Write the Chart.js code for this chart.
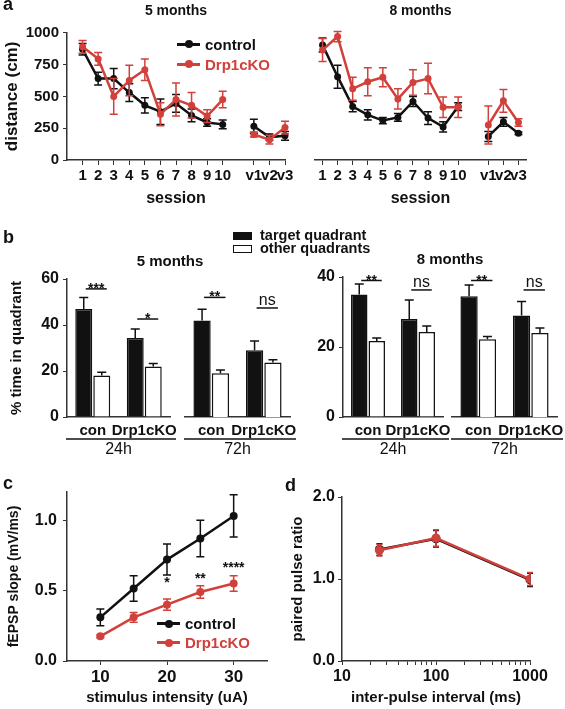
<!DOCTYPE html>
<html>
<head>
<meta charset="utf-8">
<script src="https://cdn.jsdelivr.net/npm/chart.js@4.4.1/dist/chart.umd.min.js"></script>
<style>
body{margin:0;background:#fff;width:565px;height:709px;position:relative;overflow:hidden;font-family:'Liberation Sans',Arial,sans-serif;color:#111}
canvas{position:absolute}
.lbl{position:absolute;font-weight:bold;font-size:18px;line-height:18px}
.t{position:absolute;font-weight:bold;font-size:15px;white-space:nowrap;transform:translate(-50%,-50%)}
.leg{position:absolute;font-weight:bold;font-size:15px}
.leg div{display:flex;align-items:center;white-space:nowrap}
.mk{position:relative;width:23px;height:3px;margin-right:5px}
.mk i{position:absolute;left:7.5px;top:-2.5px;width:8px;height:8px;border-radius:50%;background:inherit}
.sq{width:19px;height:8px;border:1.5px solid #111;margin-right:8px;box-sizing:border-box}
</style>
</head>
<body>
<canvas id="aL" width="295" height="212" style="left:0;top:0"></canvas>
<canvas id="aR" width="270" height="212" style="left:295px;top:0"></canvas>
<canvas id="b1" width="180" height="222" style="left:0;top:238px"></canvas>
<canvas id="b2" width="120" height="222" style="left:177px;top:238px"></canvas>
<canvas id="b3" width="170" height="222" style="left:280px;top:238px"></canvas>
<canvas id="b4" width="117" height="222" style="left:448px;top:238px"></canvas>
<canvas id="c" width="285" height="247" style="left:0;top:462px"></canvas>
<canvas id="d" width="280" height="247" style="left:285px;top:462px"></canvas>

<div class="lbl" style="left:3px;top:-5px">a</div>
<div class="lbl" style="left:3px;top:228px">b</div>
<div class="lbl" style="left:3px;top:474px">c</div>
<div class="lbl" style="left:285px;top:476px">d</div>

<div class="leg" style="left:177px;top:34px">
  <div style="height:20px"><span class="mk" style="background:#111"><i></i></span>control</div>
  <div style="height:20px;color:#d2403b"><span class="mk" style="background:#d2403b"><i></i></span>Drp1cKO</div>
</div>

<div class="leg" style="left:233px;top:229px;font-size:14.5px;line-height:13px">
  <div style="height:13px"><span class="sq" style="background:#111"></span>target quadrant</div>
  <div style="height:13px"><span class="sq" style="background:#fff"></span>other quadrants</div>
</div>
<div class="t" style="left:170px;top:260px">5 months</div>
<div class="t" style="left:450px;top:258px">8 months</div>

<div class="leg" style="left:157px;top:614px">
  <div style="height:19px"><span class="mk" style="background:#111"><i></i></span>control</div>
  <div style="height:19px;color:#d2403b"><span class="mk" style="background:#d2403b"><i></i></span>Drp1cKO</div>
</div>

<script>
// panel a: distance per session
const sessions = ['1', '2', '3', '4', '5', '6', '7', '8', '9', '10', '', 'v1', 'v2', 'v3'];
const ctrl5 = [870, 640, 640, 530, 430, 380, 445, 350, 295, 280, null, 265, 180, 190];
const ctrl5Err = [45, 50, 80, 70, 60, 100, 70, 50, 30, 35, null, 55, 25, 35];
const ko5 = [890, 795, 500, 625, 710, 360, 475, 430, 345, 475, null, 200, 160, 255];
const ko5Err = [50, 50, 140, 120, 85, 90, 130, 100, 50, 65, null, 20, 35, 50];
const ctrl8 = [905, 655, 420, 355, 310, 335, 460, 330, 260, 420, null, 185, 300, 210];
const ctrl8Err = [55, 90, 40, 40, 25, 30, 40, 50, 40, 30, null, 40, 35, 10];
const ko8 = [865, 970, 560, 615, 650, 480, 610, 640, 415, 415, null, 275, 465, 295];
const ko8Err = [90, 40, 90, 110, 75, 80, 100, 120, 80, 80, null, 150, 90, 30];

// panel b: % time in quadrant
const groups = ['con', 'Drp1cKO'];
const tgt5h24 = [47, 34.3], tgt5h24Err = [5, 4];
const oth5h24 = [18, 22], oth5h24Err = [1.5, 1.3];
const sig5h24 = ['***', '*'], sig5h24Level = [55.7, 42.6];
const tgt5h72 = [42, 29], tgt5h72Err = [4.8, 4];
const oth5h72 = [19, 23.7], oth5h72Err = [1.4, 1.2];
const sig5h72 = ['**', 'ns'], sig5h72Level = [52, 47.4];
const tgt8h24 = [35, 28], tgt8h24Err = [3, 5.4];
const oth8h24 = [21.7, 24.3], oth8h24Err = [0.9, 1.7];
const sig8h24 = ['**', 'ns'], sig8h24Level = [39, 36.3];
const tgt8h72 = [34.5, 29], tgt8h72Err = [3.2, 4];
const oth8h72 = [22.2, 24], oth8h72Err = [0.8, 1.4];
const sig8h72 = ['**', 'ns'], sig8h72Level = [39, 36.3];

// panel c: input-output
const intensity = [10, 15, 20, 25, 30];
const intensityTicks = [10, 20, 30];
const ctrlSlope = [0.31, 0.515, 0.72, 0.87, 1.03];
const ctrlSlopeErr = [0.06, 0.09, 0.11, 0.13, 0.15];
const koSlope = [0.175, 0.31, 0.40, 0.49, 0.55];
const koSlopeErr = [0.01, 0.035, 0.04, 0.045, 0.055];
const slopeStars = ['', '', '*', '**', '****'];
const slopeStarLevel = [null, null, 0.58, 0.61, 0.69];

// panel d: paired pulse ratio
const interval = [25, 100, 1000];
const intervalTicks = [10, 20, 30, 40, 50, 60, 70, 80, 90, 100, 200, 300, 400, 500, 600, 700, 800, 900, 1000];
const ctrlPPR = [1.36, 1.49, 0.99];
const ctrlPPRErr = [0.07, 0.1, 0.08];
const koPPR = [1.35, 1.50, 1.0];
const koPPRErr = [0.07, 0.1, 0.08];

const RED = '#d2403b', BLACK = '#111', AXIS = '#333';
Chart.defaults.font.family = "'Liberation Sans', Arial, sans-serif";
Chart.defaults.color = BLACK;
Chart.defaults.animation = false;
Chart.defaults.responsive = false;
Chart.defaults.devicePixelRatio = 1;
Chart.defaults.plugins.legend.display = false;
Chart.defaults.plugins.tooltip.enabled = false;

const bold = size => ({ size, weight: 'bold' });

// error bars, drawn right after their own dataset
const errorBars = {
  id: 'errorBars',
  afterDatasetDraw(chart, args) {
    const ds = chart.data.datasets[args.index];
    if (!ds.errors) return;
    const y = chart.scales.y, ctx = chart.ctx;
    const upOnly = chart.config.type === 'bar';
    const w = ds.capHalf || 4;
    ctx.save();
    ctx.strokeStyle = ds.errorColor || ds.borderColor;
    ctx.lineWidth = 1.5;
    args.meta.data.forEach((el, i) => {
      const raw = ds.data[i], e = ds.errors[i];
      if (raw == null || e == null) return;
      const v = typeof raw === 'object' ? raw.y : raw;
      const top = y.getPixelForValue(v + e);
      const bot = upOnly ? el.y : y.getPixelForValue(v - e);
      ctx.beginPath();
      ctx.moveTo(el.x, top); ctx.lineTo(el.x, bot);
      ctx.moveTo(el.x - w, top); ctx.lineTo(el.x + w, top);
      if (!upOnly) { ctx.moveTo(el.x - w, bot); ctx.lineTo(el.x + w, bot); }
      ctx.stroke();
    });
    ctx.restore();
  }
};

// significance bars + group underline for panel b
const sigMarks = {
  id: 'sigMarks',
  afterDatasetsDraw(chart, args, opts) {
    const { ctx, chartArea, scales: { y } } = chart;
    const tgt = chart.getDatasetMeta(0).data, oth = chart.getDatasetMeta(1).data;
    ctx.save();
    ctx.strokeStyle = BLACK;
    ctx.fillStyle = BLACK;
    ctx.lineWidth = 1.5;
    ctx.textAlign = 'center';
    ctx.textBaseline = 'alphabetic';
    opts.labels.forEach((lab, i) => {
      const yy = y.getPixelForValue(opts.levels[i]);
      const x0 = tgt[i].x + 2, x1 = oth[i].x + 5;
      ctx.beginPath();
      ctx.moveTo(x0, yy); ctx.lineTo(x1, yy);
      ctx.stroke();
      if (lab === 'ns') {
        ctx.font = "16px 'Liberation Sans', Arial, sans-serif";
        ctx.fillText(lab, (x0 + x1) / 2, yy - 3);
      } else {
        ctx.font = "bold 14px 'Liberation Sans', Arial, sans-serif";
        ctx.fillText(lab, (x0 + x1) / 2, yy + 4);
      }
    });
    const uy = chartArea.bottom + 22;
    ctx.beginPath();
    ctx.moveTo(chartArea.left - 1, uy); ctx.lineTo(chartArea.right + 6, uy);
    ctx.stroke();
    ctx.restore();
  }
};

// asterisks above KO points in panel c
const slopeMarks = {
  id: 'slopeMarks',
  afterDatasetsDraw(chart) {
    const { ctx, scales: { x, y } } = chart;
    ctx.save();
    ctx.fillStyle = BLACK;
    ctx.font = "bold 14px 'Liberation Sans', Arial, sans-serif";
    ctx.textAlign = 'center';
    slopeStars.forEach((s, i) => {
      if (!s) return;
      ctx.fillText(s, x.getPixelForValue(intensity[i]), y.getPixelForValue(slopeStarLevel[i]) + 8);
    });
    ctx.restore();
  }
};

function sessionChart(id, labels, ctrl, ctrlErr, ko, koErr, title, showY, pad, offset) {
  return new Chart(document.getElementById(id), {
    type: 'line',
    data: {
      labels,
      datasets: [
        { data: ctrl, errors: ctrlErr, borderColor: BLACK, backgroundColor: BLACK, order: 1 },
        { data: ko, errors: koErr, borderColor: RED, backgroundColor: RED, order: 0 }
      ]
    },
    options: {
      layout: { padding: pad },
      spanGaps: false,
      elements: { line: { borderWidth: 2.5, tension: 0 }, point: { radius: 3.5, borderWidth: 0 } },
      plugins: {
        title: { display: true, text: title, fullSize: false, font: bold(14), color: BLACK, padding: { top: 3, bottom: 13 } }
      },
      scales: {
        x: {
          offset,
          afterFit: s => { s.height = 52; s.paddingLeft = 0; s.paddingRight = 0; },
          border: { color: AXIS, width: 1.5 },
          grid: { drawOnChartArea: false, tickLength: 5, tickColor: c => labels[c.index] ? AXIS : 'rgba(0,0,0,0)' },
          ticks: { font: bold(15), padding: 2, maxRotation: 0, autoSkip: false, color: BLACK },
          title: { display: true, text: 'session', font: bold(16), color: BLACK, padding: { top: 0, bottom: 4 } }
        },
        y: {
          display: showY,
          min: 0, max: 1000,
          afterFit: s => { s.width = showY ? 67 : 0; },
          border: { color: AXIS, width: 1.5 },
          grid: { drawOnChartArea: false, tickLength: 4, tickColor: AXIS },
          ticks: { stepSize: 250, font: bold(15), padding: 4, color: BLACK, callback: v => String(v) },
          title: { display: true, text: 'distance (cm)', font: bold(17), color: BLACK, padding: { top: 2, bottom: 0 } }
        }
      }
    },
    plugins: [errorBars]
  });
}

sessionChart('aL', [''].concat(sessions), [null].concat(ctrl5), [null].concat(ctrl5Err),
  [null].concat(ko5), [null].concat(ko5Err), '5 months', true, { left: 0, right: 10, top: 0, bottom: 0 }, false);
sessionChart('aR', sessions, ctrl8, ctrl8Err, ko8, ko8Err, '8 months', false, { left: 20, right: 39, top: 0, bottom: 0 }, true);

function quadChart(id, tgt, tgtErr, oth, othErr, sig, sigLevel, group, yMax, showY, yWidth, yTitle, pad) {
  return new Chart(document.getElementById(id), {
    type: 'bar',
    data: {
      labels: groups,
      datasets: [
        { data: tgt, errors: tgtErr, errorColor: BLACK, backgroundColor: BLACK, borderColor: BLACK, borderWidth: 1.5, capHalf: 4.5 },
        { data: oth, errors: othErr, errorColor: BLACK, backgroundColor: '#fff', borderColor: BLACK, borderWidth: 1.5, capHalf: 4.5 }
      ]
    },
    options: {
      layout: { padding: pad },
      datasets: { bar: { categoryPercentage: 0.7, barPercentage: 0.94 } },
      plugins: { sigMarks: { labels: sig, levels: sigLevel } },
      scales: {
        x: {
          afterFit: s => { s.height = 43; s.paddingLeft = 0; s.paddingRight = 0; },
          border: { color: AXIS, width: 1.5 },
          grid: { display: false, drawTicks: false },
          ticks: { font: bold(15), padding: 5, color: BLACK, maxRotation: 0, autoSkip: false },
          title: { display: true, text: group, font: { size: 16 }, color: BLACK, padding: { top: 0, bottom: 0.4 } }
        },
        y: {
          display: showY,
          min: 0, max: yMax,
          afterFit: s => { s.width = yWidth; },
          border: { color: AXIS, width: 1.5 },
          grid: { drawOnChartArea: false, tickLength: 4, tickColor: AXIS },
          ticks: { stepSize: 20, font: bold(16), padding: 4, color: BLACK },
          title: { display: !!yTitle, text: yTitle, font: bold(15), color: BLACK, padding: { top: 8, bottom: 0 } }
        }
      }
    },
    plugins: [errorBars, sigMarks]
  });
}

quadChart('b1', tgt5h24, tgt5h24Err, oth5h24, oth5h24Err, sig5h24, sig5h24Level, '24h', 60, true, 67, '% time in quadrant', { left: 0, right: 10, top: 41, bottom: 0 });
quadChart('b2', tgt5h72, tgt5h72Err, oth5h72, oth5h72Err, sig5h72, sig5h72Level, '72h', 60, false, 0, '', { left: 8, right: 7, top: 41, bottom: 0 });
quadChart('b3', tgt8h24, tgt8h24Err, oth8h24, oth8h24Err, sig8h24, sig8h24Level, '24h', 40, true, 63, '', { left: 0, right: 7, top: 39, bottom: 0 });
quadChart('b4', tgt8h72, tgt8h72Err, oth8h72, oth8h72Err, sig8h72, sig8h72Level, '72h', 40, false, 0, '', { left: 4, right: 8, top: 39, bottom: 0 });

const xy = (xs, ys) => xs.map((x, i) => ({ x, y: ys[i] }));

new Chart(document.getElementById('c'), {
  type: 'line',
  data: {
    datasets: [
      { data: xy(intensity, ctrlSlope), errors: ctrlSlopeErr, borderColor: BLACK, backgroundColor: BLACK, order: 1 },
      { data: xy(intensity, koSlope), errors: koSlopeErr, borderColor: RED, backgroundColor: RED, order: 0 }
    ]
  },
  options: {
    layout: { padding: { left: 0, right: 18, top: 30, bottom: 0 } },
    elements: { line: { borderWidth: 2.5, tension: 0 }, point: { radius: 4, borderWidth: 0 } },
    scales: {
      x: {
        type: 'linear', min: 5, max: 35,
        afterBuildTicks: s => { s.ticks = intensityTicks.map(value => ({ value })); },
        afterFit: s => { s.height = 48; },
        border: { color: AXIS, width: 1.5 },
        grid: { drawOnChartArea: false, tickLength: 4, tickColor: AXIS },
        ticks: { font: bold(17), padding: 2, color: BLACK, maxRotation: 0 },
        title: { display: true, text: 'stimulus intensity (uA)', font: bold(15), color: BLACK, padding: { top: 0, bottom: 2 } }
      },
      y: {
        min: 0, max: 1.2,
        afterFit: s => { s.width = 67; },
        border: { color: AXIS, width: 1.5 },
        grid: { drawOnChartArea: false, tickLength: 4, tickColor: AXIS },
        ticks: { stepSize: 0.5, includeBounds: false, font: bold(16), padding: 6, color: BLACK, callback: v => v.toFixed(1) },
        title: { display: true, text: 'fEPSP slope (mV/ms)', font: bold(14), color: BLACK, padding: { top: 5.6, bottom: 0 } }
      }
    }
  },
  plugins: [errorBars, slopeMarks]
});

new Chart(document.getElementById('d'), {
  type: 'line',
  data: {
    datasets: [
      { data: xy(interval, ctrlPPR), errors: ctrlPPRErr, borderColor: BLACK, backgroundColor: BLACK, order: 1, capHalf: 3 },
      { data: xy(interval, koPPR), errors: koPPRErr, borderColor: RED, backgroundColor: RED, order: 0, capHalf: 3 }
    ]
  },
  options: {
    layout: { padding: { left: 0, right: 35, top: 35, bottom: 0 } },
    elements: { line: { borderWidth: 2.5, tension: 0 }, point: { radius: 4.5, borderWidth: 0 } },
    scales: {
      x: {
        type: 'logarithmic', min: 10, max: 1000,
        afterBuildTicks: s => { s.ticks = intervalTicks.map(value => ({ value })); },
        afterFit: s => { s.height = 48; },
        border: { color: AXIS, width: 1.5 },
        grid: { drawOnChartArea: false, tickLength: 4, tickColor: AXIS },
        ticks: { font: bold(16), padding: 2, color: BLACK, maxRotation: 0, autoSkip: false,
          callback: v => [10, 100, 1000].includes(v) ? String(v) : '' },
        title: { display: true, text: 'inter-pulse interval (ms)', font: bold(15), color: BLACK, padding: { top: 0, bottom: 2 } }
      },
      y: {
        min: 0, max: 2,
        afterFit: s => { s.width = 57; },
        border: { color: AXIS, width: 1.5 },
        grid: { drawOnChartArea: false, tickLength: 4, tickColor: AXIS },
        ticks: { stepSize: 1, font: bold(16), padding: 3, color: BLACK, callback: v => v.toFixed(1) },
        title: { display: true, text: 'paired pulse ratio', font: bold(15), color: BLACK, padding: { top: 4, bottom: 0 } }
      }
    }
  },
  plugins: [errorBars]
});
</script>
</body>
</html>
